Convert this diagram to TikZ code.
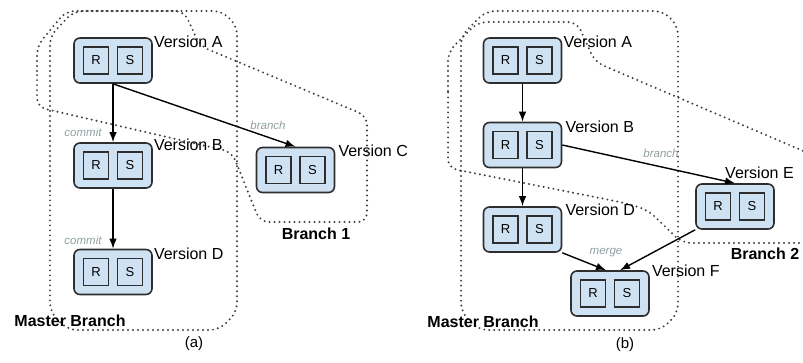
\documentclass[tikz,border=0pt]{standalone}
\usepackage{fontspec}
\setmainfont{Liberation Sans}
\usepackage{xcolor}
\usepackage{tikz}
\usetikzlibrary{arrows.meta,calc}
\definecolor{boxfill}{HTML}{CFE2F3}
\definecolor{boxline}{HTML}{2E2E2E}
\definecolor{dots}{HTML}{404040}
\definecolor{note}{HTML}{8FA0A0}
\tikzset{
  ver/.style={draw=boxline, fill=boxfill, line width=1.6pt, rounded corners=6pt, minimum width=78pt, minimum height=45pt, inner sep=0pt},
  half/.style={draw=boxline, fill=boxfill, line width=1.5pt, minimum width=25pt, minimum height=27pt, inner sep=0pt, font=\fontsize{13}{13}\selectfont},
  conn/.style={-{Latex[length=10pt,width=7.5pt]}, line width=1.4pt, draw=black},
  dotline/.style={draw=dots, line width=2.2pt, line cap=round, dash pattern=on 0pt off 5pt, rounded corners=9pt},
  lbl/.style={text=note, inner sep=0pt, font=\fontsize{11.5}{12}\selectfont\itshape},
  vlab/.style={anchor=north west, inner sep=0pt, font=\fontsize{16}{16}\selectfont},
  brlab/.style={inner sep=0pt, font=\fontsize{16}{16}\selectfont\bfseries},
  capt/.style={inner sep=0pt, font=\fontsize{15}{15}\selectfont}
}
\newcommand{\verbox}[2]{%
  \node[ver] (#1) at (#2) {};
  \node[half] (#1-R) at ($(#1.center)+(-17,0)$) {R};
  \node[half] (#1-S) at ($(#1.center)+(17,0)$) {S};
}

\begin{document}
\begin{tikzpicture}[x=1pt, y=-1pt]
  \useasboundingbox (0,0) rectangle (803,363);
  \clip (0,0) rectangle (803,363);

  % (a) branch outlines
  \draw[dotline] (50,200) -- (50,36) -- (74,11) -- (222,11) -- (237,26) -- (237,312) -- (219,330) -- (68,330) -- (50,312) -- cycle;
  \draw[dotline] (37,80) -- (37,46) -- (66,11) -- (184,11) -- (200,46) -- (367,116) -- (367,222) -- (260,222) -- (232,152) -- (37,107) -- cycle;

  % (b) branch outlines
  \draw[dotline] (461,200) -- (461,36) -- (486,11) -- (663,11) -- (678,26) -- (678,313) -- (661,330) -- (479,330) -- (461,312) -- cycle;
  \draw[dotline] (448,100) -- (448,52) -- (478,22) -- (577,22) -- (595,62) -- (815,156) -- (815,243) -- (682,243) -- (648,210) -- (625,203) -- (448,168) -- cycle;

  % (a) versions
  \verbox{aA}{113,60.5}
  \verbox{aB}{113,165.5}
  \verbox{aD}{113,272}
  \verbox{aC}{295.5,170}
  \node[vlab] (aA-lab) at ($(aA.north east)+(1,-1)$) {Version A};
  \node[vlab] (aB-lab) at ($(aB.north east)+(1,-3)$) {Version B};
  \node[vlab] (aD-lab) at ($(aD.north east)+(1,-1)$) {Version D};
  \node[vlab] (aC-lab) at ($(aC.north east)+(3,-2)$) {Version C};

  \draw[conn] (aA) -- (aB);
  \draw[conn] (aB) -- (aD);
  \draw[conn] (aA.south) -- (aC.north);
  \node[lbl] (aAB) at (83,132) {commit};
  \node[lbl] (aBD) at (83,240) {commit};
  \node[lbl] (aAC) at (268,125) {branch};

  \node[brlab] (amaster) at (70,321) {Master Branch};
  \node[brlab] (abr1) at (316,234) {Branch 1};
  \node[capt] (acap) at (194,344) {(a)};

  % (b) versions
  \verbox{bA}{522.5,60.5}
  \verbox{bB}{522.5,145}
  \verbox{bD}{522.5,229.5}
  \verbox{bE}{735,206.5}
  \verbox{bF}{610,293.5}
  \node[vlab] (bA-lab) at ($(bA.north east)+(1,-1)$) {Version A};
  \node[vlab] (bB-lab) at ($(bB.north east)+(3,-1)$) {Version B};
  \node[vlab] (bD-lab) at ($(bD.north east)+(3,-2)$) {Version D};
  \node[vlab] (bE-lab) at ($(bE.north)+(-10,-16)$) {Version E};
  \node[vlab] (bF-lab) at ($(bF.north east)+(2,-5)$) {Version F};

  \draw[conn] (bA) -- (bB);
  \draw[conn] (bB) -- (bD);
  \draw[conn] (bB.east) -- (bE.north);
  \draw[conn] (bD.south east) -- ([xshift=-4pt]bF.north);
  \draw[conn] (bE.south west) -- ([xshift=10pt]bF.north);
  \node[lbl] (bBE) at (661,153) {branch};
  \node[lbl] (bDF) at (606,253) {merge};

  \node[brlab] (bmaster) at (483,322) {Master Branch};
  \node[brlab] (bbr2) at (765,254) {Branch 2};
  \node[capt] (bcap) at (625,345) {(b)};
\end{tikzpicture}
\end{document}
